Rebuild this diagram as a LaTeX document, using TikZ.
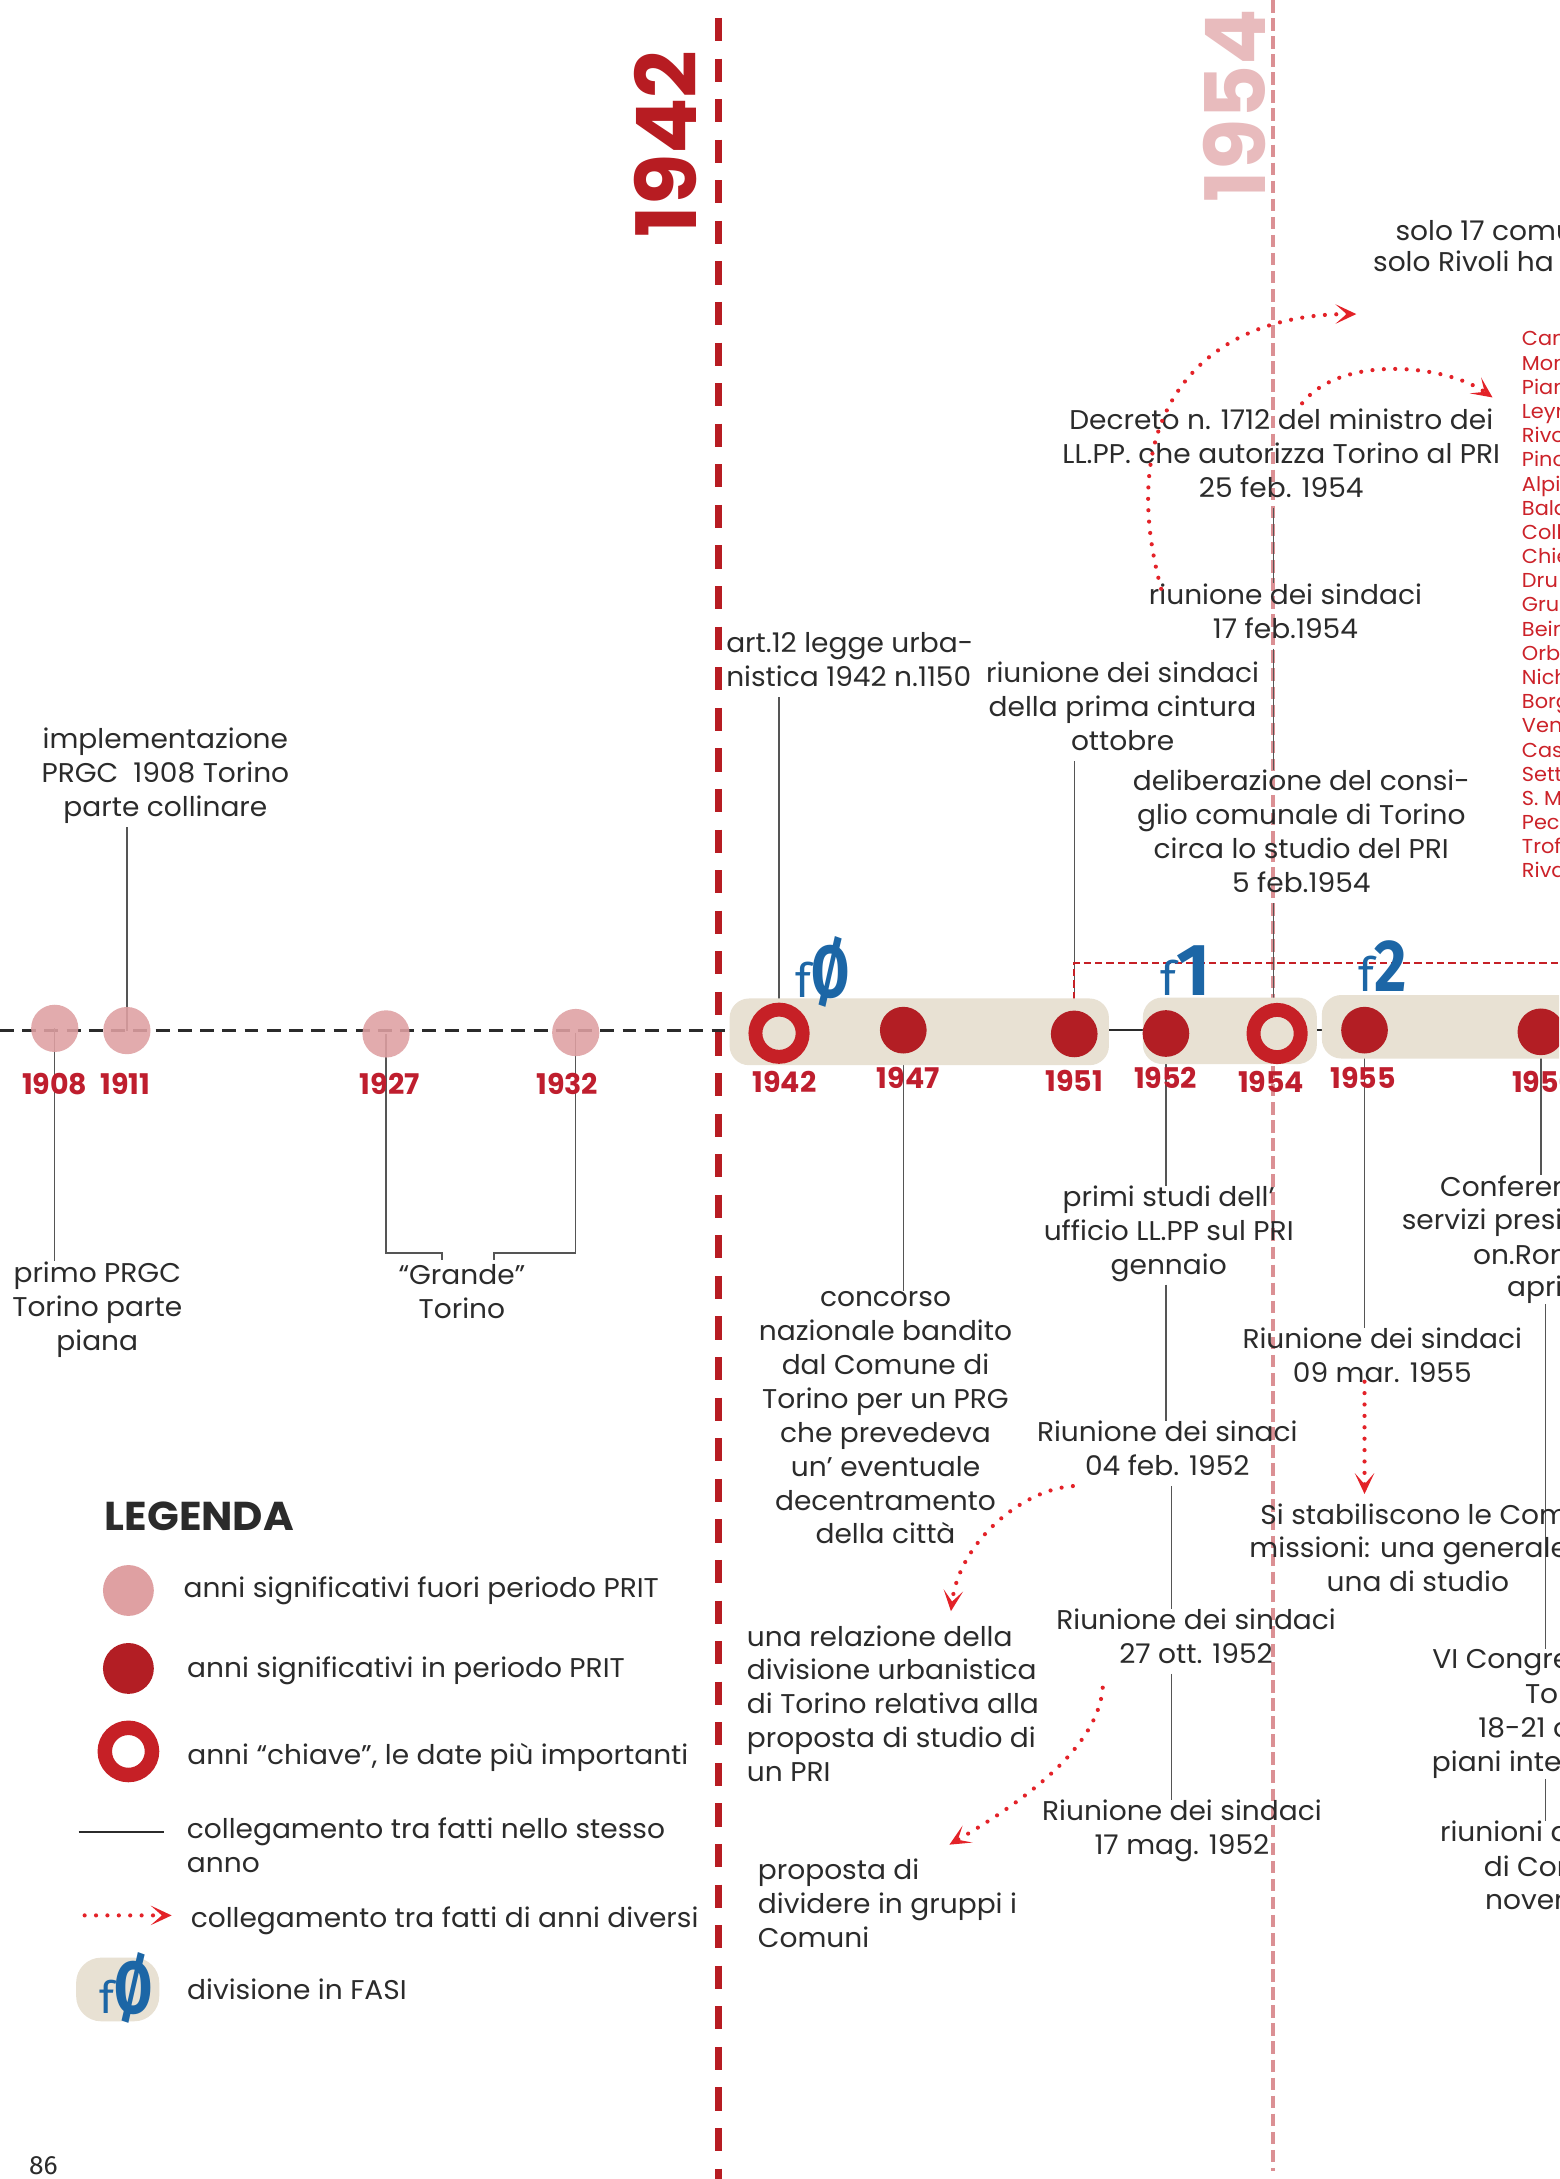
\documentclass[tikz,border=0pt]{standalone}
\usepackage{fontspec}
\setmainfont{Poppins}[FakeStretch=1.035]
\newfontfamily\yearfont{Poppins}
\newfontfamily\fasefont{Fira Sans}
\usepackage{graphicx}
\usepackage{tikz}
\usetikzlibrary{positioning,arrows.meta,calc}
\definecolor{prgcpink}{HTML}{DFA0A2}
\definecolor{pritred}{HTML}{B31E24}
\definecolor{keyred}{HTML}{C62026}
\definecolor{yearred}{HTML}{BF1E2E}
\definecolor{faseblue}{HTML}{1C66A6}
\definecolor{fasebeige}{HTML}{E8E1D3}
\definecolor{inkgray}{HTML}{2B2B2B}
\definecolor{linkgray}{HTML}{555555}
\definecolor{linkred}{HTML}{E32228}
\definecolor{guidered}{HTML}{B71C22}
\definecolor{guidepink}{HTML}{DB9094}
\definecolor{titlepink}{HTML}{E8BBBD}
\definecolor{townred}{HTML}{CC2229}
\pgfdeclarelayer{behind}
\pgfsetlayers{behind,main}

\begin{document}
\begin{tikzpicture}[x=1pt, y=-1pt,
    every node/.style={inner sep=0pt, text=inkgray, font=\fontsize{19.5}{24.4}\selectfont},
    note/.style={align=center, anchor=north, yshift=-2.5pt, execute at begin node=\strut},
    noteleft/.style={align=left, anchor=north west, yshift=-2.5pt, execute at begin node=\strut},
    cut/.style={anchor=base west},
    outdot/.style={circle, fill=prgcpink, fill opacity=0.88, minimum size=34pt},
    indot/.style={circle, fill=pritred, minimum size=33.6pt},
    keydot/.style={circle, draw=keyred, line width=10pt, minimum size=34pt},
    yearlbl/.style={anchor=base, text=yearred, font=\yearfont\bfseries\fontsize{20.5}{24}\selectfont},
    fase/.style={fill=fasebeige, rounded corners=14pt},
    faselbl/.style={anchor=base west, text=faseblue, font=\fasefont},
    link/.style={draw=linkgray, line width=0.9pt},
    later/.style={draw=linkred, line width=3pt, line cap=round, dash pattern=on 0pt off 8.2pt,
                  -{Stealth[length=15pt, width=14pt, inset=8pt]}},
    phase/.style={draw=keyred, line width=1.1pt, dash pattern=on 5.3pt off 2.9pt}]
  \useasboundingbox (0,0) rectangle (1122,1568);
  \clip (0,0) rectangle (1122,1568);

  % year guides and the time axis
  \begin{pgfonlayer}{behind}
    \fill[white] (0,0) rectangle (1122,1568);
    \draw[guidered, line width=5.7pt, dash pattern=on 16.7pt off 12.5pt] (517,12.9) -- (517,1568);
    \draw[guidepink, line width=2.9pt, dash pattern=on 9pt off 4pt] (916.2,0) -- (916.2,1562);
    \draw[inkgray, line width=2.2pt, dash pattern=on 10pt off 6pt] (0,741.3) -- (525,741.3);
    \draw[inkgray, line width=1.9pt] (525,741.3) -- (1122,741.3);
  \end{pgfonlayer}

  \node[rotate=90, text=guidered, font=\yearfont\bfseries\fontsize{60}{60}\selectfont] (big1942) at (479,103.5) {1942};
  \node[rotate=90, text=titlepink, font=\yearfont\bfseries\fontsize{60}{60}\selectfont] (big1954) at (888.5,76) {1954};

  % phases
  \node[fase, minimum width=273pt, minimum height=48pt] (fase0) at (661.5,742.5) {};
  \node[fase, minimum width=125.2pt, minimum height=47.9pt] (fase1) at (885,741.75) {};
  \node[fase, minimum width=260pt, minimum height=45.7pt] (fase2) at (1081.2,738.85) {};
  \node[faselbl] (f0lbl) at (572,718)
    {\fontsize{34}{34}\selectfont f\fontsize{53}{53}\selectfont\bfseries\scalebox{0.75}[1]{Ø}};
  \node[faselbl] (f1lbl) at (834.8,716)
    {\fontsize{34}{34}\selectfont f\fontsize{53}{53}\selectfont\bfseries 1};
  \node[faselbl] (f2lbl) at (977.6,713.7)
    {\fontsize{34}{34}\selectfont f\fontsize{53}{53}\selectfont\bfseries\scalebox{0.85}[1]{2}};

  % years
  \node[outdot] (d1908) at (39.4,740) {};
  \node[outdot] (d1911) at (91.3,741.6) {};
  \node[outdot] (d1927) at (277.8,744) {};
  \node[outdot] (d1932) at (414.3,743) {};
  \node[keydot] (d1942) at (560.6,743.5) {};
  \node[indot] (d1947) at (650,741.3) {};
  \node[indot] (d1951) at (773,744) {};
  \node[indot] (d1952) at (839,743.7) {};
  \node[keydot] (d1954) at (919,743.7) {};
  \node[indot] (d1955) at (981.9,741.3) {};
  \node[indot] (d1956) at (1108.8,742.5) {};

  \node[yearlbl] (y1908) at (39.4,787.4) {1908};
  \node[yearlbl] (y1911) at (90.3,787.4) {1911};
  \node[yearlbl] (y1927) at (280.5,787.4) {1927};
  \node[yearlbl] (y1932) at (408.2,787.4) {1932};
  \node[yearlbl] (y1942) at (564.5,786) {1942};
  \node[yearlbl] (y1947) at (653.5,783.3) {1947};
  \node[yearlbl] (y1951) at (773,785.6) {1951};
  \node[yearlbl] (y1952) at (838.8,783.3) {1952};
  \node[yearlbl] (y1954) at (914.7,786.4) {1954};
  \node[yearlbl] (y1955) at (981,783.3) {1955};
  \node[yearlbl] (y1956) at (1111.5,786) {1956};

  % facts above the axis
  \node[note] (t1911) at (119,521.2) {implementazione\\PRGC\ \ 1908 Torino\\parte collinare};
  \node[noteleft] (t1942) at (522.4,452.2) {art.12 legge urba-\\nistica 1942 n.1150};
  \node[note] (t1951) at (807.8,473.5) {riunione dei sindaci\\della prima cintura\\ottobre};
  \node[note] (tDelib) at (936.4,551.6)
    {deliberazione del consi-\\glio comunale di Torino\\circa lo studio del PRI\\5 feb.1954};
  \node[note] (tRiun54) at (925,417.2) {riunione dei sindaci\\17 feb.1954};
  \node[note] (tDecreto) at (922,291.7)
    {Decreto n. 1712 del ministro dei\\LL.PP. che autorizza Torino al PRI\\25 feb. 1954};
  \node[cut] (solo1) at (1004,172.8) {solo 17 comu};
  \node[cut] (solo2) at (987.9,195.6) {solo Rivoli ha};
  \node[noteleft, text=townred, font=\fontsize{14.5}{17.4}\selectfont] (towns) at (1095,236)
    {Can\\Mon\\Pian\\Leyn\\Rivo\\Pino\\Alpi\\Bald\\Coll\\Chie\\Dru\\Gru\\Bein\\Orb\\Nich\\Borg\\Ven\\Case\\Sett\\S. M\\Pec\\Trof\\Riva};

  % facts below the axis
  \node[note] (t1908) at (70,905.2) {primo PRGC\\Torino parte\\piana};
  \node[note] (tGrande) at (332.4,907.2) {“Grande”\\Torino};
  \node[note] (t1947) at (637.2,926.6)
    {concorso\\nazionale bandito\\dal Comune di\\Torino per un PRG\\che prevedeva\\un’ eventuale\\decentramento\\della città};
  \node[note] (t1952a) at (841,850.6) {primi studi dell’\\ufficio LL.PP sul PRI\\gennaio};
  \node[note] (t1952b) at (840,1019.9) {Riunione dei sinaci\\04 feb. 1952};
  \node[note] (t1952c) at (860.7,1155) {Riunione dei sindaci\\27 ott. 1952};
  \node[note] (t1952d) at (850.5,1292.7) {Riunione dei sindaci\\17 mag. 1952};
  \node[noteleft] (tRelaz) at (537.3,1166.9)
    {una relazione della\\divisione urbanistica\\di Torino relativa alla\\proposta di studio di\\un PRI};
  \node[noteleft] (tProposta) at (545.2,1334.9) {proposta di\\dividere in gruppi i\\Comuni};
  \node[note] (t1955) at (994.7,952.8) {Riunione dei sindaci\\09 mar. 1955};
  \node[cut] (comm1) at (906.8,1097.1) {Si stabiliscono le Com};
  \node[cut] (comm2) at (898.9,1121) {missioni: una generale};
  \node[cut] (comm3) at (954.5,1145.3) {una di studio};
  \node[cut] (conf1) at (1036.1,860.8) {Conferen};
  \node[cut] (conf2) at (1008.5,884.9) {servizi presi};
  \node[cut] (conf3) at (1059.8,909.7) {on.Rom};
  \node[cut] (conf4) at (1084.3,933.1) {apri};
  \node[cut] (congr1) at (1030.6,1200.8) {VI Congre};
  \node[cut] (congr2) at (1097.2,1225.8) {Tor};
  \node[cut] (congr3) at (1063.7,1250.1) {18-21 o};
  \node[cut] (congr4) at (1030.2,1274.8) {piani inte};
  \node[cut] (riun1) at (1036.1,1325.2) {riunioni a};
  \node[cut] (riun2) at (1067.6,1350.2) {di Com};
  \node[cut] (riun3) at (1068.5,1374.2) {novem};

  % same-year links
  \coordinate (ax52) at ([xshift=4pt]d1952);
  \coordinate (ax56) at ([xshift=3.3pt]d1956);
  \coordinate (g1954) at (916.2,0);
  \coordinate (phaseEnd) at (1122,692.8);
  \begin{pgfonlayer}{behind}
    \draw[link] (d1908.center) -- (d1908 |- t1908.north);
    \draw[link] (d1911.center) -- (d1911 |- t1911.south);
    \draw[link] (d1927.center) |- ([xshift=-14.4pt,yshift=8pt]tGrande.north) -- ++(0,5);
    \draw[link] (d1932.center) |- ([xshift=23.1pt,yshift=8pt]tGrande.north) -- ++(0,5);
    \draw[link] (d1942.north) -- (d1942 |- t1942.south);
    \draw[link] (d1947.center) -- (d1947 |- t1947.north);
    \draw[link] (d1951.north) -- (d1951 |- t1951.south);
    \draw[link] (d1952.center) -- (d1952 |- t1952a.north);
    \draw[link] (d1952 |- t1952a.south) -- (d1952 |- t1952b.north);
    \draw[link] (ax52 |- t1952b.south) -- (ax52 |- t1952c.north);
    \draw[link] (ax52 |- t1952c.south) -- (ax52 |- t1952d.north);
    \draw[link] (g1954 |- tDecreto.south) -- (g1954 |- tRiun54.north);
    \draw[link] (g1954 |- tRiun54.south) -- (g1954 |- tDelib.north);
    \draw[link] (g1954 |- tDelib.south) -- (g1954 |- d1954.north);
    \draw[link] (d1955.center) -- (d1955 |- t1955.north);
    \draw[link] (d1956.center) -- (d1956 |- conf1.north);
    \draw[link] (ax56 |- conf4.south) -- (ax56 |- congr1.north);
    \draw[link] (ax56 |- congr4.south) -- (ax56 |- riun1.north);
    \draw[phase] (d1951.north) |- (phaseEnd);
  \end{pgfonlayer}

  % links across years
  \coordinate (aimSolo) at (976,226);
  \coordinate (aimTowns) at (1074,286);
  \coordinate (m55a) at (d1955 |- t1955.south);
  \coordinate (m55b) at (d1955 |- comm1.north);
  \draw[later] ([xshift=9pt,yshift=-4pt]tRiun54.north west) .. controls (800,292) and (870,226) .. (aimSolo);
  \draw[later] ([xshift=15pt,yshift=4pt]tDecreto.north) .. controls (965,255) and (1040,262) .. (aimTowns);
  \draw[later] ([xshift=26pt]t1952b.south west) .. controls (735,1072) and (690,1110)
    .. ([xshift=147pt,yshift=10pt]tRelaz.north west);
  \draw[later] ([xshift=33.6pt,yshift=-10pt]t1952c.south west) .. controls (790,1260) and (730,1300)
    .. ([xshift=138pt,yshift=10pt]tProposta.north west);
  \draw[later] ([yshift=8pt]m55a) -- ([yshift=7pt]m55b);

  % legend
  \node[anchor=base west, font=\bfseries\fontsize{29}{30}\selectfont] (legTitle) at (75.2,1101.3) {LEGENDA};
  \node[outdot, fill opacity=1, minimum size=36.6pt] (lgOut) at (92.4,1144.5) {};
  \node[indot, minimum size=36.6pt] (lgIn) at (92.4,1200.6) {};
  \node[keydot, line width=10.4pt] (lgKey) at (92.4,1260.3) {};
  \node[right=21pt of lgOut] (lgOutTxt) {anni significativi fuori periodo PRIT};
  \node[right=23.6pt of lgIn, yshift=-2pt] (lgInTxt) {anni significativi in periodo PRIT};
  \node[right=20pt of lgKey, yshift=-4pt] (lgKeyTxt) {anni “chiave”, le date più importanti};
  \draw[inkgray, line width=1.4pt] (56.6,1318.6) -- (118.2,1318.6);
  \node[noteleft] (lgSameTxt) at (134.3,1305.2) {collegamento tra fatti nello stesso\\anno};
  \draw[later] (60.9,1378.3) -- (123.5,1378.3);
  \node[anchor=base west] (lgLaterTxt) at (137.1,1386.7) {collegamento tra fatti di anni diversi};
  \node[fase, rounded corners=18pt, minimum width=59.8pt, minimum height=45.8pt] (lgFase) at (84.7,1431.6) {};
  \node[faselbl] (lgFaseLbl) at (71.6,1449)
    {\fontsize{32}{32}\selectfont f\fontsize{53}{53}\selectfont\bfseries\scalebox{0.75}[1]{Ø}};
  \node[right=19.7pt of lgFase] (lgFaseTxt) {divisione in FASI};

  \node[anchor=base west, font=\fasefont\fontsize{19}{20}\selectfont] (pageNum) at (20.8,1565) {86};
\end{tikzpicture}
\end{document}
